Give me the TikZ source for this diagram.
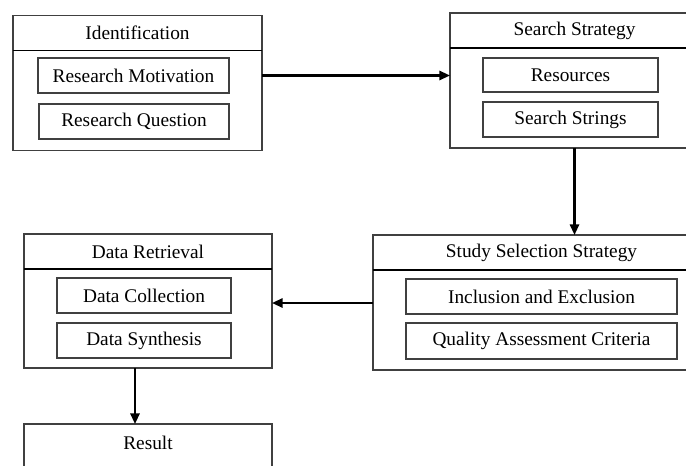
\documentclass[tikz,border=0pt]{standalone}
\usepackage{fontspec}
\setmainfont{Liberation Serif}
\usetikzlibrary{arrows.meta, positioning, calc}
\tikzset{
    box_head/.style={
        rectangle, draw=black!75, line width=0.6pt, outer sep=0pt,
        minimum width=4.98cm, minimum height=0.70cm, inner sep=0pt,
        align=center, font=\fontsize{11}{13}\selectfont
    },
    box_body/.style={
        rectangle, draw=black!75, line width=0.6pt, outer sep=0pt,
        minimum width=4.98cm, minimum height=2.0cm, inner sep=0pt
    },
    box_item/.style={
        rectangle, draw=black!75, line width=0.6pt, outer sep=0pt,
        minimum width=3.8cm, minimum height=0.70cm, inner sep=0pt,
        align=center, font=\fontsize{11}{13}\selectfont
    },
    sep_line/.style={
        draw=black, line width=1.1pt
    },
    flow_arrow/.style={
        -{Triangle[length=6pt, width=5.2pt]}, draw=black, line width=1.2pt
    }
}

\begin{document}
\begin{tikzpicture}
\useasboundingbox (0,0) rectangle (13.72,-9.30);
\clip (0,0) rectangle (13.72,-9.30);

\node[box_head] (ident) at (2.75, -0.66) {Identification};
\node[box_body, below=0pt of ident] (identbody) {};
\draw[sep_line] (ident.south west) -- (ident.south east);
\node[box_item, minimum width=3.82cm] (motiv) at (2.67, -1.51) {Research Motivation};
\node[box_item, minimum width=3.80cm] (question) at (2.68, -2.43) {Research Question};

\node[box_head] (search) at (11.49, -0.61) {Search Strategy};
\node[box_body, below=0pt of search] (searchbody) {};
\draw[sep_line] (search.south west) -- (search.south east);
\node[box_item, minimum width=3.50cm, minimum height=0.68cm] (resources) at (11.41, -1.50) {Resources};
\node[box_item, minimum width=3.50cm] (strings) at (11.41, -2.39) {Search Strings};

\node[box_head, minimum width=6.74cm] (study) at (10.83, -5.05) {Study Selection Strategy};
\node[box_body, minimum width=6.74cm, below=0pt of study] (studybody) {};
\draw[sep_line] (study.south west) -- (study.south east);
\node[box_item, minimum width=5.42cm] (inclusion) at (10.83, -5.93) {Inclusion and Exclusion};
\node[box_item, minimum width=5.42cm, minimum height=0.72cm] (quality) at (10.83, -6.82) {Quality Assessment Criteria};

\node[box_head, minimum width=4.96cm] (data) at (2.96, -5.03) {Data Retrieval};
\node[box_body, minimum width=4.96cm, minimum height=1.98cm, below=0pt of data] (databody) {};
\draw[sep_line] (data.south west) -- (data.south east);
\node[box_item, minimum width=3.48cm] (collection) at (2.88, -5.91) {Data Collection};
\node[box_item, minimum width=3.48cm] (synthesis) at (2.88, -6.81) {Data Synthesis};

\node[box_head, minimum width=4.96cm, anchor=north, text height=0.505cm, text depth=1.2cm] (result) at (2.96, -8.48) {Result};

\coordinate (study_out) at ([yshift=0.34cm]studybody.west);
\coordinate (data_out) at ([xshift=-0.26cm]databody.south);

\draw[flow_arrow] (motiv -| identbody.east) -- (motiv -| searchbody.west);
\draw[flow_arrow] (searchbody.south) -- (searchbody.south |- study.north);
\draw[flow_arrow] (study_out) -- (study_out -| databody.east);
\draw[flow_arrow] (data_out) -- (data_out |- result.north);
\end{tikzpicture}
\end{document}
